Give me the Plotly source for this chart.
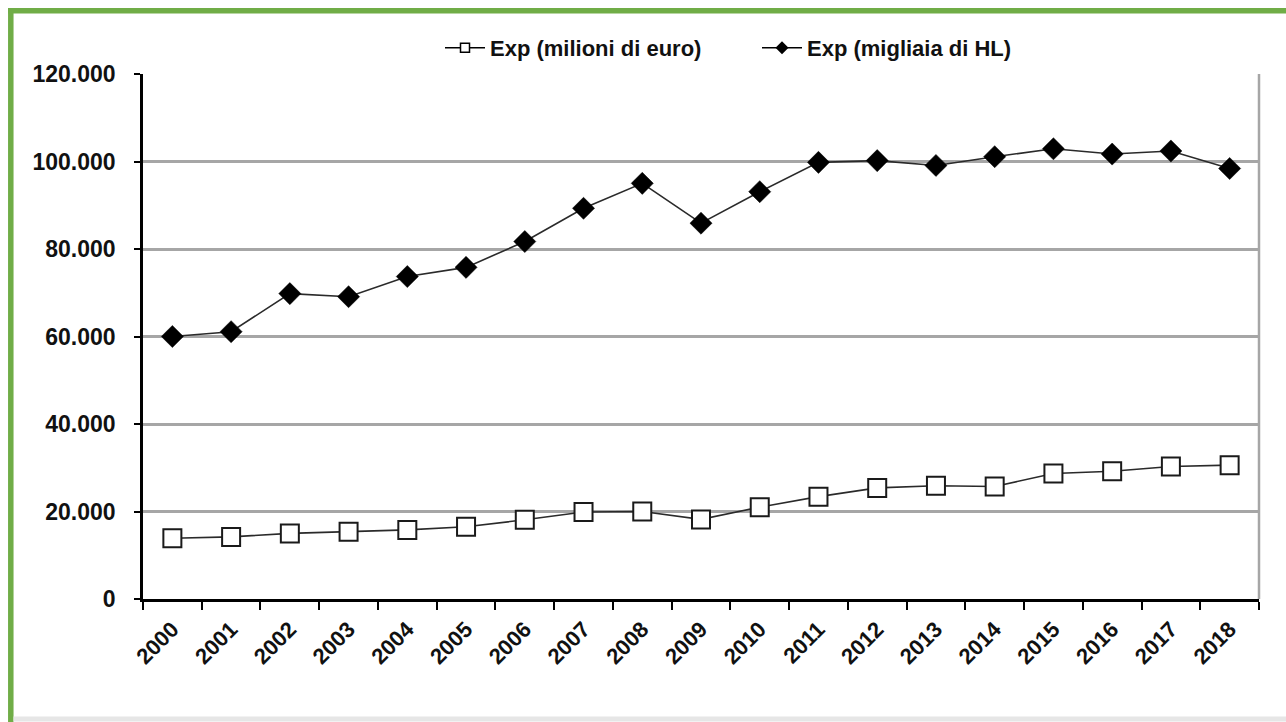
import plotly.graph_objects as go

years = [str(y) for y in range(2000, 2019)]
exp_euro = [13900, 14200, 15000, 15400, 15800, 16500, 18100, 19900, 20000, 18200,
            21000, 23400, 25400, 25900, 25700, 28700, 29200, 30300, 30600]
exp_hl = [60000, 61100, 69800, 69100, 73700, 75800, 81700, 89300, 95000, 85900,
          93100, 99800, 100200, 99100, 101100, 102900, 101700, 102400, 98400]
y_ticks = [0, 20000, 40000, 60000, 80000, 100000, 120000]

name_euro = "Exp (milioni di euro)"
name_hl = "Exp (migliaia di HL)"

FONT = "Liberation Sans, Arial, sans-serif"
LINE_COL = "#2a2a2a"

fig = go.Figure()

fig.add_trace(go.Scatter(
    x=years, y=exp_euro, mode="lines+markers", showlegend=False,
    line=dict(color=LINE_COL, width=1.6),
    marker=dict(symbol="square", size=18, color="white",
                line=dict(color="#1a1a1a", width=2)),
))
fig.add_trace(go.Scatter(
    x=years, y=exp_hl, mode="lines+markers", showlegend=False,
    line=dict(color=LINE_COL, width=1.6),
    marker=dict(symbol="diamond", size=17, color="black",
                line=dict(color="black", width=0.5)),
))

# legend entries with smaller markers
fig.add_trace(go.Scatter(
    x=[None], y=[None], mode="lines+markers", name=name_euro,
    line=dict(color="black", width=1.6),
    marker=dict(symbol="square", size=9, color="white",
                line=dict(color="black", width=1.5)),
))
fig.add_trace(go.Scatter(
    x=[None], y=[None], mode="lines+markers", name=name_hl,
    line=dict(color="black", width=1.6),
    marker=dict(symbol="diamond", size=10, color="black"),
))

L, R, T, B = 143, 27, 74, 123
W, H = 1286, 722
pw = W - L - R
ph = H - T - B

def px_x(px):
    return (px - L) / pw

def px_y(py):
    return (H - B - py) / ph

shapes = [
    # right gray border of plot area
    dict(type="line", xref="paper", yref="paper", x0=1, x1=1, y0=0, y1=1,
         line=dict(color="#A6A6A6", width=2.5)),
    # green frame: left and top
    dict(type="line", xref="paper", yref="paper",
         x0=px_x(10.8), x1=px_x(10.8), y0=px_y(8), y1=px_y(722),
         line=dict(color="#70AD47", width=5.5)),
    dict(type="line", xref="paper", yref="paper",
         x0=px_x(8), x1=px_x(1286), y0=px_y(10.8), y1=px_y(10.8),
         line=dict(color="#70AD47", width=5.5)),
    # light gray bottom line
    dict(type="line", xref="paper", yref="paper",
         x0=px_x(13.5), x1=px_x(1286), y0=px_y(719), y1=px_y(719),
         line=dict(color="#E6E6E6", width=5)),
]

fig.update_layout(
    width=W, height=H,
    margin=dict(l=L, r=R, t=T, b=B),
    paper_bgcolor="white", plot_bgcolor="white",
    separators=",.",
    font=dict(family=FONT, color="#111111"),
    showlegend=True,
    legend=dict(orientation="h", x=px_x(440), xanchor="left",
                y=px_y(48), yanchor="middle",
                font=dict(family=FONT, size=22, color="#111111", weight="bold"),
                entrywidth=262, entrywidthmode="pixels",
                itemwidth=40, bgcolor="rgba(0,0,0,0)"),
    shapes=shapes,
)

fig.update_xaxes(
    type="category", range=[-0.5, 18.5],
    tickson="boundaries", ticks="outside", ticklen=8, tickwidth=2, tickcolor="black",
    showline=True, linecolor="black", linewidth=2.5,
    showgrid=False, zeroline=False,
    tickangle=-45,
    tickfont=dict(family=FONT, size=22, color="#111111", weight="bold"),
    ticklabelstandoff=6,
)
fig.update_yaxes(
    range=[0, 120000], tickvals=y_ticks, tickformat=",.0f",
    ticks="outside", ticklen=6, tickwidth=2, tickcolor="black",
    showline=True, linecolor="black", linewidth=2.5,
    showgrid=True, gridcolor="#A6A6A6", gridwidth=2.5,
    zeroline=False,
    tickfont=dict(family=FONT, size=23, color="#111111", weight="bold"),
    ticklabelstandoff=14,
)

fig.write_html("out.html")
